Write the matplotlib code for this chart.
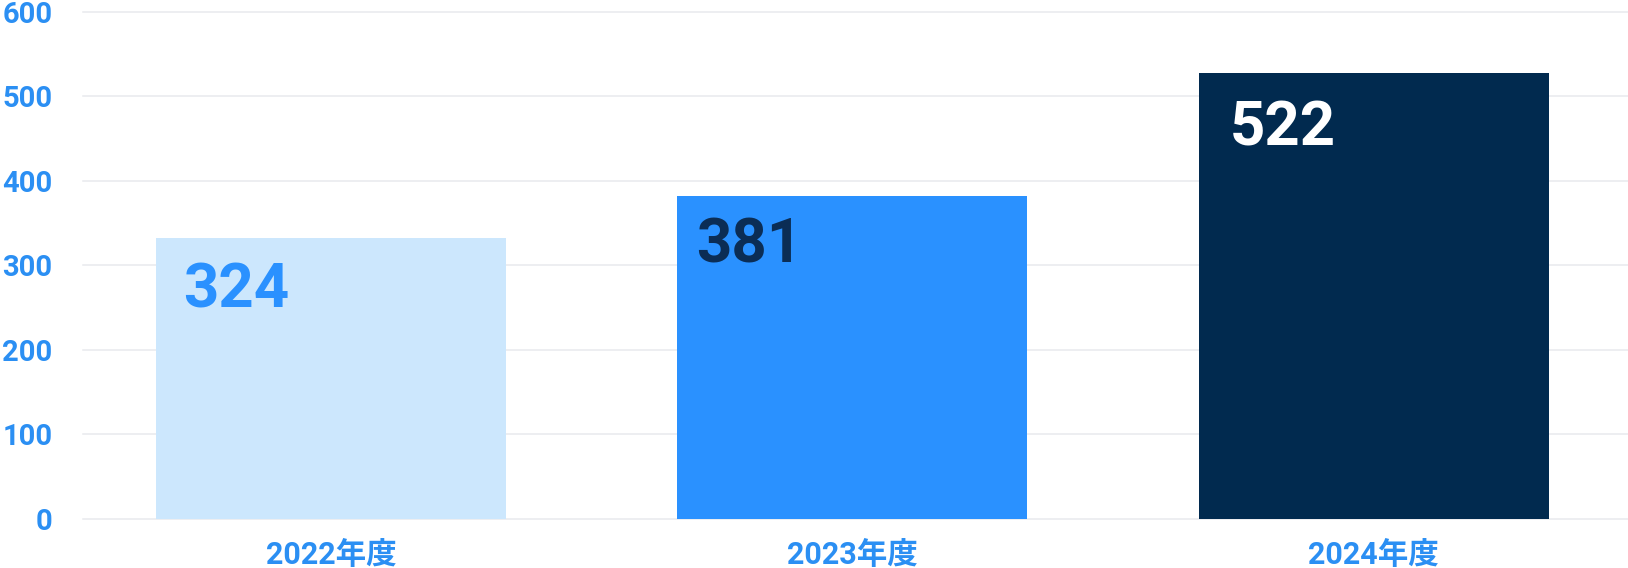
import matplotlib
matplotlib.use('Agg')
import matplotlib.pyplot as plt

# datos
anios = ['2022年度', '2023年度', '2024年度']
alturas = [332, 382, 527]
etiquetas = ['324', '381', '522']
colores = ['#CCE7FD', '#2A91FF', '#012A4F']
colores_texto = ['#2A91FF', '#0B2D55', '#FFFFFF']
ticks_y = [0, 100, 200, 300, 400, 500, 600]

# desplazamiento del numero dentro de cada barra (puntos)
desp_x = [19.0, 13.5, 22.0]
desp_y = [-16.5, -15.0, -18.5]

azul = '#2B8FF3'
fuente = ['Roboto', 'Noto Sans CJK JP', 'DejaVu Sans']
plt.rcParams['font.family'] = fuente
plt.rcParams['font.weight'] = 'bold'

fig = plt.figure(figsize=(16.28, 5.68), dpi=100)
ax = fig.add_axes([83 / 1628, (568 - 519) / 568, 1 - 83 / 1628, (519 - 11.7) / 568])

x = range(len(anios))
ax.bar(x, alturas, width=0.671, color=colores, zorder=2)

for i, (h, t, c) in enumerate(zip(alturas, etiquetas, colores_texto)):
    ax.annotate(t, xy=(i - 0.671 / 2, h), xytext=(desp_x[i], desp_y[i]), textcoords='offset points',
                ha='left', va='top', fontsize=44.5, fontweight='bold', color=c, zorder=3)

ax.set_xlim(-0.476, 2.488)
ax.set_ylim(0, 600)
ax.set_yticks(ticks_y)
ax.set_xticks(list(x))
ax.set_xticklabels(anios)

ax.grid(axis='y', color='#E8E9EE', linewidth=1.1, zorder=0)
for l in ax.get_ygridlines():
    l.set_clip_on(False)
ax.set_axisbelow(True)

for s in ax.spines.values():
    s.set_visible(False)

ax.tick_params(axis='y', length=0, pad=22, labelsize=21, labelcolor=azul)
ax.tick_params(axis='x', length=0, pad=15, labelsize=22, labelcolor=azul)
for lab in ax.get_yticklabels() + ax.get_xticklabels():
    lab.set_fontweight('bold')

fig.savefig('out.png', dpi=100)
